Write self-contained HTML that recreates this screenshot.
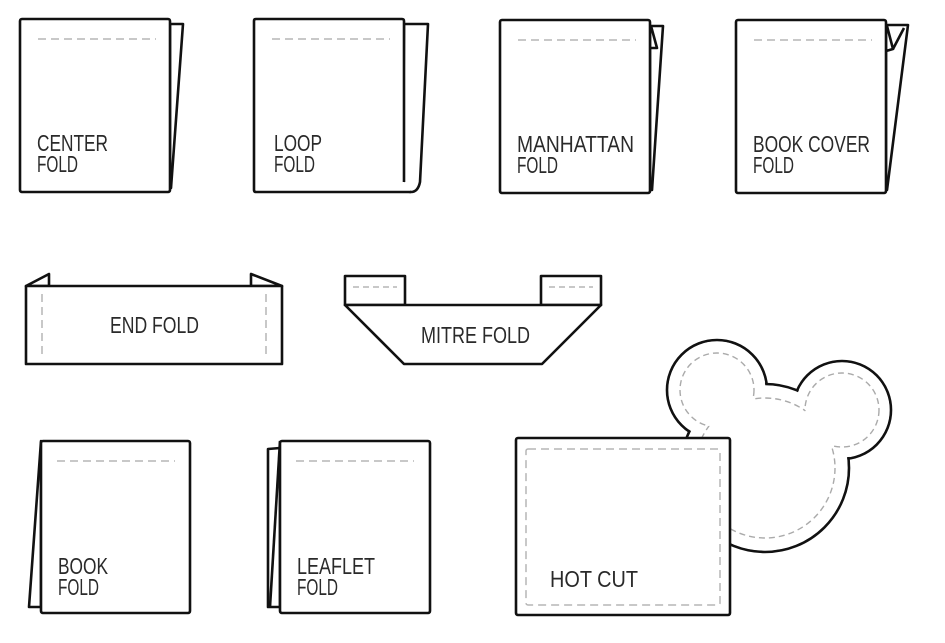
<!DOCTYPE html>
<html><head><meta charset="utf-8"><style>
html,body{margin:0;padding:0;background:#fff;}
svg{display:block;}
text{font-family:"Liberation Sans",sans-serif;font-size:23px;fill:#2a2a2a;}
</style></head><body>
<svg width="945" height="643" viewBox="0 0 945 643" xmlns="http://www.w3.org/2000/svg">
<defs>
<mask id="m1"><rect width="945" height="643" fill="#fff"/><circle cx="842" cy="410" r="37" fill="#000"/><circle cx="765" cy="468" r="70" fill="#000"/></mask>
<mask id="m2"><rect width="945" height="643" fill="#fff"/><circle cx="717" cy="390" r="37" fill="#000"/><circle cx="765" cy="468" r="70" fill="#000"/></mask>
<mask id="m3"><rect width="945" height="643" fill="#fff"/><circle cx="717" cy="390" r="37" fill="#000"/><circle cx="842" cy="410" r="37" fill="#000"/></mask>
</defs>
<g fill="#fff" stroke="#111" stroke-width="2.6" stroke-linejoin="round">
<polygon points="170,24 183,24 171,188 170,188"/>
<rect x="20" y="19" width="150" height="173" rx="2"/>
<path d="M404,24 L428,24 L420,182 Q418,192 411,192 Q404,192 403,182 Z"/>
<path d="M404,182 L404,21 Q404,19 402,19 L256,19 Q254,19 254,21 L254,190 Q254,192 256,192 L411,192"/>
<polygon points="650,26 663,26 652,190 650,190"/>
<polygon points="650,26 651,26 657,48 650,48"/>
<rect x="500" y="20" width="150" height="173" rx="2"/>
<polygon points="886,25 908,25 887,190 886,190"/>
<polygon points="886,26 887,26 893,49 886,51"/>
<line x1="893" y1="49" x2="904" y2="28"/>
<rect x="736" y="20" width="150" height="173" rx="2"/>
<polygon points="26,286 49,274 49,286"/>
<polygon points="282,286 251,274 251,286"/>
<rect x="26" y="286" width="256" height="78"/>
<rect x="345" y="276" width="60" height="29"/>
<rect x="541" y="276" width="60" height="29"/>
<polygon points="345,305 601,305 542,364 404,364"/>
<polygon points="41,441 29,607 41,607"/>
<rect x="41" y="441" width="149" height="172" rx="2"/>
<polygon points="280,448 268,449 268,607 280,607"/>
<line x1="280" y1="441" x2="270" y2="607"/>
<rect x="280" y="441" width="150" height="172" rx="2"/>
<circle cx="717" cy="390" r="50"/>
<circle cx="842" cy="410" r="49"/>
<circle cx="765" cy="468" r="84"/>
</g>
<g fill="#fff" stroke="none">
<circle cx="717" cy="390" r="48.5"/>
<circle cx="842" cy="410" r="47.5"/>
<circle cx="765" cy="468" r="82.5"/>
</g>
<g fill="none" stroke="#aaa" stroke-width="1.4" stroke-dasharray="6,4">
<circle cx="717" cy="390" r="37" mask="url(#m1)"/>
<circle cx="842" cy="410" r="37" mask="url(#m2)"/>
<circle cx="765" cy="468" r="70" mask="url(#m3)"/>
</g>
<rect x="516" y="438" width="214" height="177" rx="2" fill="#fff" stroke="#111" stroke-width="2.6"/>
<g fill="none" stroke="#b5b5b5" stroke-width="1.5" stroke-dasharray="8,5">
<line x1="38" y1="39" x2="156" y2="39"/>
<line x1="272" y1="39" x2="390" y2="39"/>
<line x1="518" y1="40" x2="636" y2="40"/>
<line x1="754" y1="40" x2="872" y2="40"/>
<line x1="57" y1="461" x2="175" y2="461"/>
<line x1="296" y1="461" x2="414" y2="461"/>
<line x1="353" y1="287" x2="397" y2="287" stroke-dasharray="6,4"/>
<line x1="549" y1="287" x2="593" y2="287" stroke-dasharray="6,4"/>
<line x1="42" y1="294" x2="42" y2="357"/>
<line x1="266" y1="294" x2="266" y2="357"/>
<rect x="526" y="449" width="194" height="156" rx="2"/>
</g>
<g>
<text x="37" y="151" textLength="71" lengthAdjust="spacingAndGlyphs">CENTER</text>
<text x="37" y="172" textLength="41" lengthAdjust="spacingAndGlyphs">FOLD</text>
<text x="274" y="151" textLength="48" lengthAdjust="spacingAndGlyphs">LOOP</text>
<text x="274" y="172" textLength="41" lengthAdjust="spacingAndGlyphs">FOLD</text>
<text x="517" y="152" textLength="117" lengthAdjust="spacingAndGlyphs">MANHATTAN</text>
<text x="517" y="173" textLength="41" lengthAdjust="spacingAndGlyphs">FOLD</text>
<text x="753" y="152" textLength="117" lengthAdjust="spacingAndGlyphs">BOOK COVER</text>
<text x="753" y="173" textLength="41" lengthAdjust="spacingAndGlyphs">FOLD</text>
<text x="110" y="333" textLength="89" lengthAdjust="spacingAndGlyphs">END FOLD</text>
<text x="421" y="343" textLength="109" lengthAdjust="spacingAndGlyphs">MITRE FOLD</text>
<text x="58" y="574" textLength="50" lengthAdjust="spacingAndGlyphs">BOOK</text>
<text x="58" y="595" textLength="41" lengthAdjust="spacingAndGlyphs">FOLD</text>
<text x="297" y="574" textLength="78" lengthAdjust="spacingAndGlyphs">LEAFLET</text>
<text x="297" y="595" textLength="41" lengthAdjust="spacingAndGlyphs">FOLD</text>
<text x="550" y="587" textLength="88" lengthAdjust="spacingAndGlyphs">HOT CUT</text>
</g>
</svg>
</body></html>
